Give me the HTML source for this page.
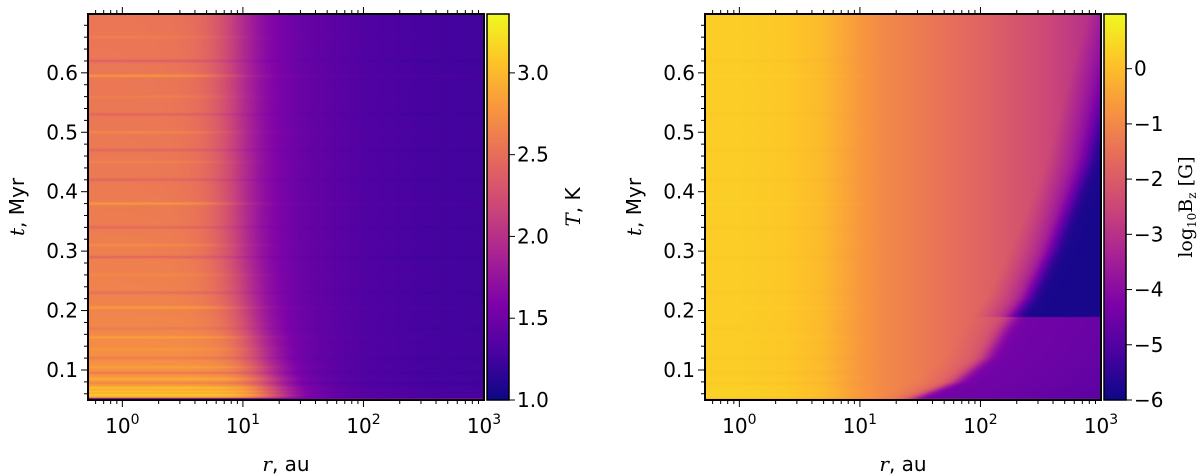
<!DOCTYPE html>
<html><head><meta charset="utf-8">
<style>
html,body{margin:0;padding:0;background:#fff;}
#wrap{position:relative;width:1200px;height:476px;overflow:hidden;font-family:"DejaVu Sans","Liberation Sans",sans-serif;}
canvas{position:absolute;}
</style></head>
<body>
<div id="wrap">
<canvas id="c1" width="396" height="386" style="left:88px;top:14px"></canvas>
<canvas id="c2" width="396" height="386" style="left:705px;top:14px"></canvas>
<canvas id="cb1" width="22" height="386" style="left:487px;top:14px"></canvas>
<canvas id="cb2" width="22" height="386" style="left:1104px;top:14px"></canvas>
<svg id="ov" width="1200" height="476" style="position:absolute;left:0;top:0"></svg>
</div>
<script>
// ---- data ----
const outerLogR = [0.6, 0.9, 1.2, 1.5, 2, 2.5, 3];
const outerTemp = [1.9, 1.78, 1.58, 1.45, 1.33, 1.27, 1.25];
const innerT = [0.06, 0.1, 0.2, 0.4, 0.7];
const innerTemp = [2.85, 2.75, 2.65, 2.58, 2.55];
const edgeT = [0.06, 0.12, 0.2, 0.3, 0.7];
const edgeLogR = [1.25, 1.12, 1.0, 0.92, 0.88];
const logRGrid = [-0.3, 0, 0.4, 0.7, 0.85, 1.0, 1.2, 1.5, 2, 2.5, 3];
const bzProfile = [0.25, 0.25, 0.15, -0.1, -0.4, -0.7, -1.0, -1.3, -1.8, -2.4, -3.2];
const boundT = [0.052, 0.08, 0.12, 0.17, 0.22, 0.3, 0.45, 0.6, 0.7];
const boundLogR = [1.45, 1.8, 2.05, 2.2, 2.4, 2.6, 2.9, 3.1, 3.25];
const darkStartT = 0.19;
const stripeT = [0.058,0.064,0.07,0.078,0.085,0.095,0.105,0.12,0.135,0.155,0.17,0.205,0.23,0.26,0.29,0.31,0.34,0.38,0.42,0.45,0.47,0.5,0.53,0.56,0.595,0.62,0.66];
const stripeAmp = [0.35,0.3,0.3,-0.2,0.2,-0.25,0.15,-0.2,0.1,0.2,-0.15,0.25,-0.2,0.1,-0.25,0.15,-0.2,0.3,-0.2,0.1,-0.2,0.15,-0.2,0.1,0.3,-0.25,0.1];
const tempTicks = [1.0, 1.5, 2.0, 2.5, 3.0];
const bzTicks = [-6, -5, -4, -3, -2, -1, 0];
const timeTicks = [0.1, 0.2, 0.3, 0.4, 0.5, 0.6];
const rDecades = [0, 1, 2, 3];

// ---- scales ----
const W=396,H=386;
const logRMin=-0.285, logRMax=3.0, tMin=0.0495, tMax=0.699;
const Tmin=1.0, Tmax=3.36, Bmin=-6, Bmax=0.99;
const xOf = lr => (lr-logRMin)/(logRMax-logRMin)*W;
const yOf = t => H-(t-tMin)/(tMax-tMin)*H;
const plasma=[[13,8,135],[76,2,161],[126,3,168],[169,35,149],[204,71,120],[229,107,93],[248,149,64],[253,197,39],[240,249,33]];
function cmap(v){v=Math.max(0,Math.min(1,v));const p=v*8,i=Math.min(7,Math.floor(p)),f=p-i;const a=plasma[i],b=plasma[i+1];return [a[0]+(b[0]-a[0])*f,a[1]+(b[1]-a[1])*f,a[2]+(b[2]-a[2])*f];}
function interp(xs,ys,x){if(x<=xs[0])return ys[0];for(let i=1;i<xs.length;i++){if(x<=xs[i]){const f=(x-xs[i-1])/(xs[i]-xs[i-1]);return ys[i-1]+(ys[i]-ys[i-1])*f;}}return ys[ys.length-1];}
function stripe(t){let s=0;for(let k=0;k<stripeT.length;k++){const d=(t-stripeT[k])/0.0022;s+=stripeAmp[k]*Math.exp(-d*d);}return s;}
function sig(x){return 1/(1+Math.exp(-x));}

function draw(id,fn,vmin,vmax){const c=document.getElementById(id),ctx=c.getContext('2d'),img=ctx.createImageData(W,H);
for(let py=0;py<H;py++){const t=tMin+(H-py-0.5)/H*(tMax-tMin);const st=stripe(t);
for(let px=0;px<W;px++){const lr=logRMin+(px+0.5)/W*(logRMax-logRMin);const v=fn(lr,t,st);const col=cmap((v-vmin)/(vmax-vmin));const o=(py*W+px)*4;img.data[o]=col[0];img.data[o+1]=col[1];img.data[o+2]=col[2];img.data[o+3]=255;}}
ctx.putImageData(img,0,0);}

draw('c1',(lr,t,st)=>{if(t<0.053)return 1.6;
const out=interp(outerLogR,outerTemp,lr);const inn=interp(innerT,innerTemp,t);const c=interp(edgeT,edgeLogR,t);
const w=sig((c-lr)/0.13);let v=out+(inn-out)*w;
return v+st*(0.12+0.6*w);},Tmin,Tmax);

draw('c2',(lr,t,st)=>{if(t<0.052)return -2.2;let v=interp(logRGrid,bzProfile,lr)+st*0.3*sig((1.0-lr)/0.1);
const b=interp(boundT,boundLogR,t);const low=t<darkStartT?(-4.4-0.3*Math.max(0,lr-b)):-5.85;
const f=sig((lr-b)/0.04);
const pre=v-1.2*Math.max(0,1-(b-lr)/0.35)*(t>darkStartT?1:0.3);
return pre+(low-pre)*f;},Bmin,Bmax);

function bar(id){const c=document.getElementById(id),ctx=c.getContext('2d');for(let py=0;py<H;py++){const col=cmap(1-(py+0.5)/H);ctx.fillStyle=`rgb(${col[0]|0},${col[1]|0},${col[2]|0})`;ctx.fillRect(0,py,22,1);}}
bar('cb1');bar('cb2');

// ---- axes ----
const ov=document.getElementById('ov');const NS='http://www.w3.org/2000/svg';
function el(tag,attrs,txt){const e=document.createElementNS(NS,tag);for(const k in attrs)e.setAttribute(k,attrs[k]);if(txt!==undefined)e.textContent=txt;ov.appendChild(e);return e;}
function panel(x0,name){
 const fr=el('rect',{x:x0,y:14,width:W,height:H,fill:'none',stroke:'#000','stroke-width':2});
 
 for(const d of [-1,0,1,2]){for(let m=1;m<=9;m++){const lr=d+Math.log10(m);if(lr<logRMin||lr>logRMax+1e-6)continue;const x=x0+xOf(lr);const L=m===1?7:4;
  el('line',{x1:x,y1:400,x2:x,y2:400+L,stroke:'#000','stroke-width':1});el('line',{x1:x,y1:14,x2:x,y2:14-L,stroke:'#000','stroke-width':1});}}
 rDecades.forEach(d=>{const x=x0+xOf(d);const t=el('text',{x:x,y:433,'text-anchor':'middle','font-size':20});
  
  t.textContent='10';const s=document.createElementNS(NS,'tspan');s.setAttribute('dy',-9);s.setAttribute('font-size',14);s.textContent=d;t.appendChild(s);});
 for(let k=0;k<33;k++){const tv=0.06+k*0.02;if(tv>tMax)break;const y=14+yOf(tv);const maj=Math.abs(tv*10-Math.round(tv*10))<1e-6;
  el('line',{x1:x0,y1:y,x2:x0-(maj?7:4),y2:y,stroke:'#000','stroke-width':1});}
 timeTicks.forEach(tv=>{const y=14+yOf(tv);const t=el('text',{x:x0-10,y:y+7,'text-anchor':'end','font-size':20},tv.toFixed(1));
  });
 const xl=el('text',{x:x0+W/2,y:471,'text-anchor':'middle','font-size':20});xl.innerHTML='<tspan font-family="DejaVu Serif, serif" font-style="italic">r</tspan>, au';
 
 const yl=el('text',{x:0,y:0,'text-anchor':'middle','font-size':20,transform:`translate(${x0-64},207) rotate(-90)`});yl.innerHTML='<tspan font-family="DejaVu Serif, serif" font-style="italic">t</tspan>, Myr';
 
}
panel(88,'left-panel');panel(705,'right-panel');

function cbar(x0,ticks,vmin,vmax,fmt,name){
 const r=el('rect',{x:x0,y:14,width:22,height:H,fill:'none',stroke:'#000','stroke-width':1.5});
 
 ticks.forEach(v=>{const y=14+H-(v-vmin)/(vmax-vmin)*H;el('line',{x1:x0+22,y1:y,x2:x0+28,y2:y,stroke:'#000','stroke-width':1});
  const t=el('text',{x:x0+30,y:y+7,'font-size':20},fmt(v));});
}
cbar(487,tempTicks,Tmin,Tmax,v=>v.toFixed(1),'temperature-colorbar');
cbar(1104,bzTicks,Bmin,Bmax,v=>v<0?'\u2212'+(-v):String(v),'bz-colorbar');
const c1=el('text',{x:0,y:0,'text-anchor':'middle','font-size':20,transform:'translate(580,207) rotate(-90)'});
c1.innerHTML='<tspan font-family="DejaVu Serif, serif" font-style="italic">T</tspan>, K';

const c2=el('text',{x:0,y:0,'text-anchor':'middle','font-size':19,'font-family':'DejaVu Serif, serif',transform:'translate(1192,207) rotate(-90)'});
c2.innerHTML='log<tspan font-size="12" dy="4">10</tspan><tspan dy="-4">B</tspan><tspan font-size="12" dy="4">z</tspan><tspan dy="-4"> [G]</tspan>';

</script>
</body></html>
